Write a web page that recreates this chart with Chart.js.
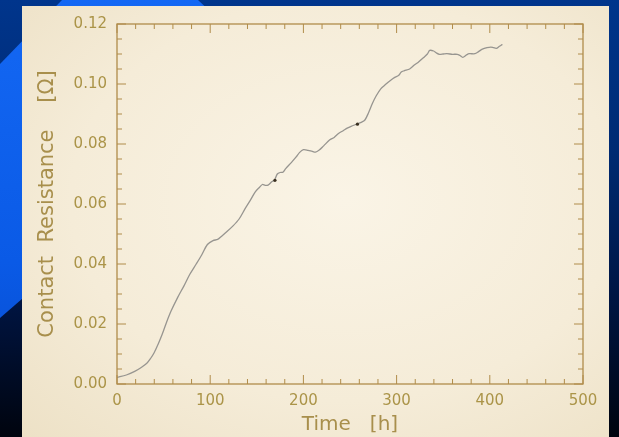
<!DOCTYPE html>
<html>
<head>
<meta charset="utf-8">
<script src="https://cdn.jsdelivr.net/npm/chart.js@4.4.1/dist/chart.umd.min.js"></script>
<style>
  html, body { margin: 0; padding: 0; }
  body { width: 619px; height: 437px; position: relative; overflow: hidden;
         background: linear-gradient(180deg, #00358c 0%, #002a72 35%, #001440 70%, #00040e 100%); }
  .band { position: absolute; left: 0; top: 0; width: 619px; height: 437px;
          background: linear-gradient(180deg, #1468f4 0%, #0a5ae6 60%, #0648c8 100%);
          clip-path: polygon(62px 0, 198px 0, 230px 30px, 30px 292px, 0 318px, 0 64px); }
  .paper { position: absolute; left: 22px; top: 6px; width: 587px; height: 431px;
           background: radial-gradient(ellipse at 55% 45%, #faf4e6 0%, #f5ecd8 60%, #ede1c6 100%); }
  canvas { position: absolute; left: 0; top: 0; }
</style>
</head>
<body>
<div class="band"></div>
<div class="paper"></div>
<canvas id="chRes" width="619" height="437"></canvas>
<script>
const timeH = [0, 10, 19, 26, 32, 36, 40, 44, 48.5, 52.7, 58, 65, 72, 78, 85, 91, 97, 103, 108, 112,
  118, 124.5, 131, 137, 143, 148, 153, 156, 159, 162, 166, 169, 172, 175, 178, 181, 187, 192, 196, 200,
  205, 209, 213, 217, 221.5, 228, 233, 238, 243, 247, 252, 257, 262, 266, 270, 274, 278, 283, 288, 293,
  298, 302, 305, 308, 314, 319, 323, 329, 333, 335.5, 339.7, 343, 346, 350, 354, 360, 365, 368, 371, 375,
  378, 384, 388, 392, 397, 401, 404, 407, 410, 413.5];
const resistance = [0.0022, 0.0030, 0.0042, 0.0055, 0.0069, 0.0085, 0.0105, 0.0132, 0.0166, 0.0202,
  0.0243, 0.0288, 0.0328, 0.0365, 0.0400, 0.0431, 0.0465, 0.0478, 0.0482, 0.0492,
  0.0508, 0.0527, 0.0550, 0.0582, 0.0612, 0.0639, 0.0656, 0.0665, 0.0662, 0.0663,
  0.0674, 0.0680, 0.0700, 0.0705, 0.0706, 0.0718, 0.0738, 0.0756, 0.0772, 0.0781,
  0.0779, 0.0776, 0.0773, 0.0780, 0.0793, 0.0813, 0.0822, 0.0836, 0.0845, 0.0853,
  0.0860, 0.0866, 0.0872, 0.0880, 0.0905, 0.0935, 0.0960, 0.0984, 0.0998, 0.1011,
  0.1022, 0.1028, 0.1040, 0.1044, 0.1050, 0.1063, 0.1072, 0.1088, 0.1100, 0.1112,
  0.1110, 0.1103, 0.1099, 0.1100, 0.1101, 0.1099, 0.1099, 0.1095, 0.1089, 0.1097,
  0.1101, 0.1101, 0.1108, 0.1116, 0.1121, 0.1123, 0.1121, 0.1119, 0.1125, 0.1132];
// due puntini scuri sulla curva
const markT = [169.5, 258];
const markR = [0.0679, 0.0866];

const xTicks = [0, 100, 200, 300, 400, 500];
const yTicks = [0, 0.02, 0.04, 0.06, 0.08, 0.10, 0.12];

const AXIS_COL = '#b08c4a';
const LBL_COL = '#ab9448';

/* cornice + tacche interne su tutti e quattro i lati (stile IDL) */
const frameTicks = {
  id: 'frameTicks',
  afterDatasetsDraw(chart) {
    const { ctx, chartArea: a, scales: { x, y } } = chart;
    ctx.save();
    ctx.strokeStyle = AXIS_COL;
    ctx.lineWidth = 1.3;
    ctx.strokeRect(a.left, a.top, a.right - a.left, a.bottom - a.top);
    ctx.lineWidth = 1;
    ctx.beginPath();
    for (let v = 0; v <= 500; v += 20) {
      const px = x.getPixelForValue(v);
      const len = v % 100 === 0 ? 9 : 5;
      ctx.moveTo(px, a.bottom); ctx.lineTo(px, a.bottom - len);
      ctx.moveTo(px, a.top); ctx.lineTo(px, a.top + len);
    }
    for (let i = 0; i <= 24; i++) {
      const v = i * 0.005;
      const py = y.getPixelForValue(v);
      const len = i % 4 === 0 ? 9 : 5;
      ctx.moveTo(a.left, py); ctx.lineTo(a.left + len, py);
      ctx.moveTo(a.right, py); ctx.lineTo(a.right - len, py);
    }
    ctx.stroke();
    ctx.restore();
  }
};

new Chart(document.getElementById('chRes'), {
  type: 'scatter',
  data: {
    datasets: [
      { label: 'R', data: timeH.map((t, i) => ({ x: t, y: resistance[i] })), showLine: true,
        borderColor: '#979590', borderWidth: 1.3, pointRadius: 0, tension: 0.3, order: 2 },
      { label: 'mark', data: markT.map((t, i) => ({ x: t, y: markR[i] })),
        pointRadius: 1.6, pointBackgroundColor: '#3a3020', pointBorderWidth: 0, order: 1 }
    ]
  },
  options: {
    responsive: false, animation: false,
    layout: { padding: { left: 0, right: 36, top: 24, bottom: 0 } },
    plugins: { legend: { display: false }, tooltip: { enabled: false } },
    scales: {
      x: {
        type: 'linear', min: 0, max: 500,
        afterBuildTicks: s => { s.ticks = xTicks.map(v => ({ value: v })); },
        afterFit: s => { s.height = 53; },
        grid: { display: false, drawTicks: false }, border: { display: false },
        ticks: { color: LBL_COL, padding: 8, font: { family: 'DejaVu Sans', size: 15 }, maxRotation: 0 },
        title: { display: true, text: 'Time   [h]', color: '#a88f4c', padding: 0,
                 font: { family: 'DejaVu Sans', size: 20 } }
      },
      y: {
        type: 'linear', min: 0, max: 0.12,
        afterBuildTicks: s => { s.ticks = yTicks.map(v => ({ value: v })); },
        afterFit: s => { s.width = 117; },
        grid: { display: false, drawTicks: false }, border: { display: false },
        ticks: { color: LBL_COL, padding: 10, font: { family: 'DejaVu Sans', size: 15 },
                 callback: v => v.toFixed(2) },
        title: { display: true, text: 'Contact  Resistance    [Ω]', color: '#a88f4c',
                 padding: { top: 35, bottom: 0 }, font: { family: 'DejaVu Sans', size: 21 } }
      }
    }
  },
  plugins: [frameTicks]
});
</script>
</body>
</html>
